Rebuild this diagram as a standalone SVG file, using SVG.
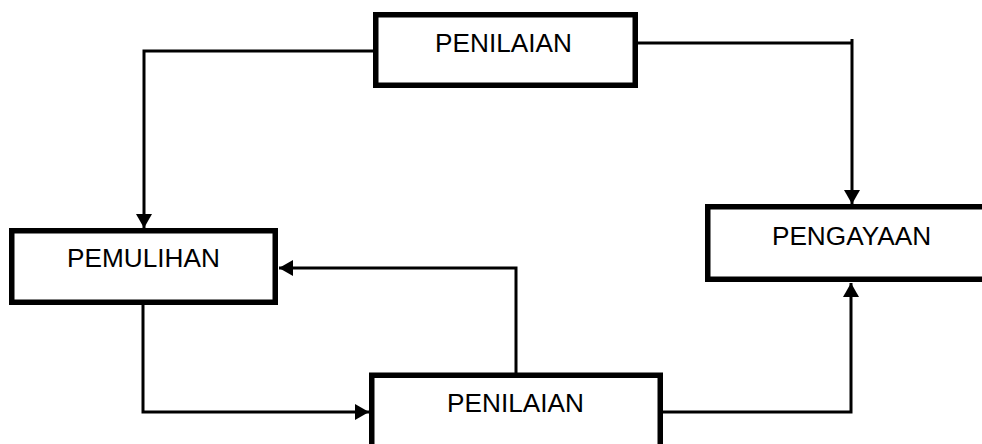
<svg xmlns="http://www.w3.org/2000/svg" width="982" height="444" viewBox="0 0 982 444">
<style>
.box{fill:#fff;stroke:#000;stroke-width:5.5}
.lbl{font-family:"Liberation Sans",Arial,sans-serif;font-size:26.2px;fill:#000;text-anchor:middle}
.con{fill:none;stroke:#000;stroke-width:3}
</style>
<defs>
<marker id="ah" markerUnits="userSpaceOnUse" markerWidth="14" markerHeight="16" refX="14" refY="8" orient="auto" viewBox="0 0 14 16">
<path d="M0,0 L14,8 L0,16 z" fill="#000"/>
</marker>
</defs>
<rect width="982" height="444" fill="#fff"/>
<g id="connectors">
<path class="con" d="M374,51 H144 V228" marker-end="url(#ah)"/>
<path class="con" d="M637,43 H852 M852,39 V204" marker-end="url(#ah)"/>
<path class="con" d="M516,373 V268 H279" marker-end="url(#ah)"/>
<path class="con" d="M143,304 V412 H369" marker-end="url(#ah)"/>
<path class="con" d="M662,412 H851 V283" marker-end="url(#ah)"/>
</g>
<g id="penilaian-top">
<rect class="box" x="375.75" y="14.75" width="259.5" height="70.5"/>
<text class="lbl" x="503.5" y="52">PENILAIAN</text>
</g>
<g id="pemulihan">
<rect class="box" x="11.75" y="230.75" width="263.5" height="71.5"/>
<text class="lbl" x="143.5" y="267">PEMULIHAN</text>
</g>
<g id="pengayaan">
<rect class="box" x="707.75" y="206.75" width="300" height="72.5"/>
<text class="lbl" x="851.5" y="245">PENGAYAAN</text>
</g>
<g id="penilaian-bottom">
<rect class="box" x="371.75" y="375.25" width="288.5" height="100"/>
<text class="lbl" x="515.5" y="412">PENILAIAN</text>
</g>
</svg>
